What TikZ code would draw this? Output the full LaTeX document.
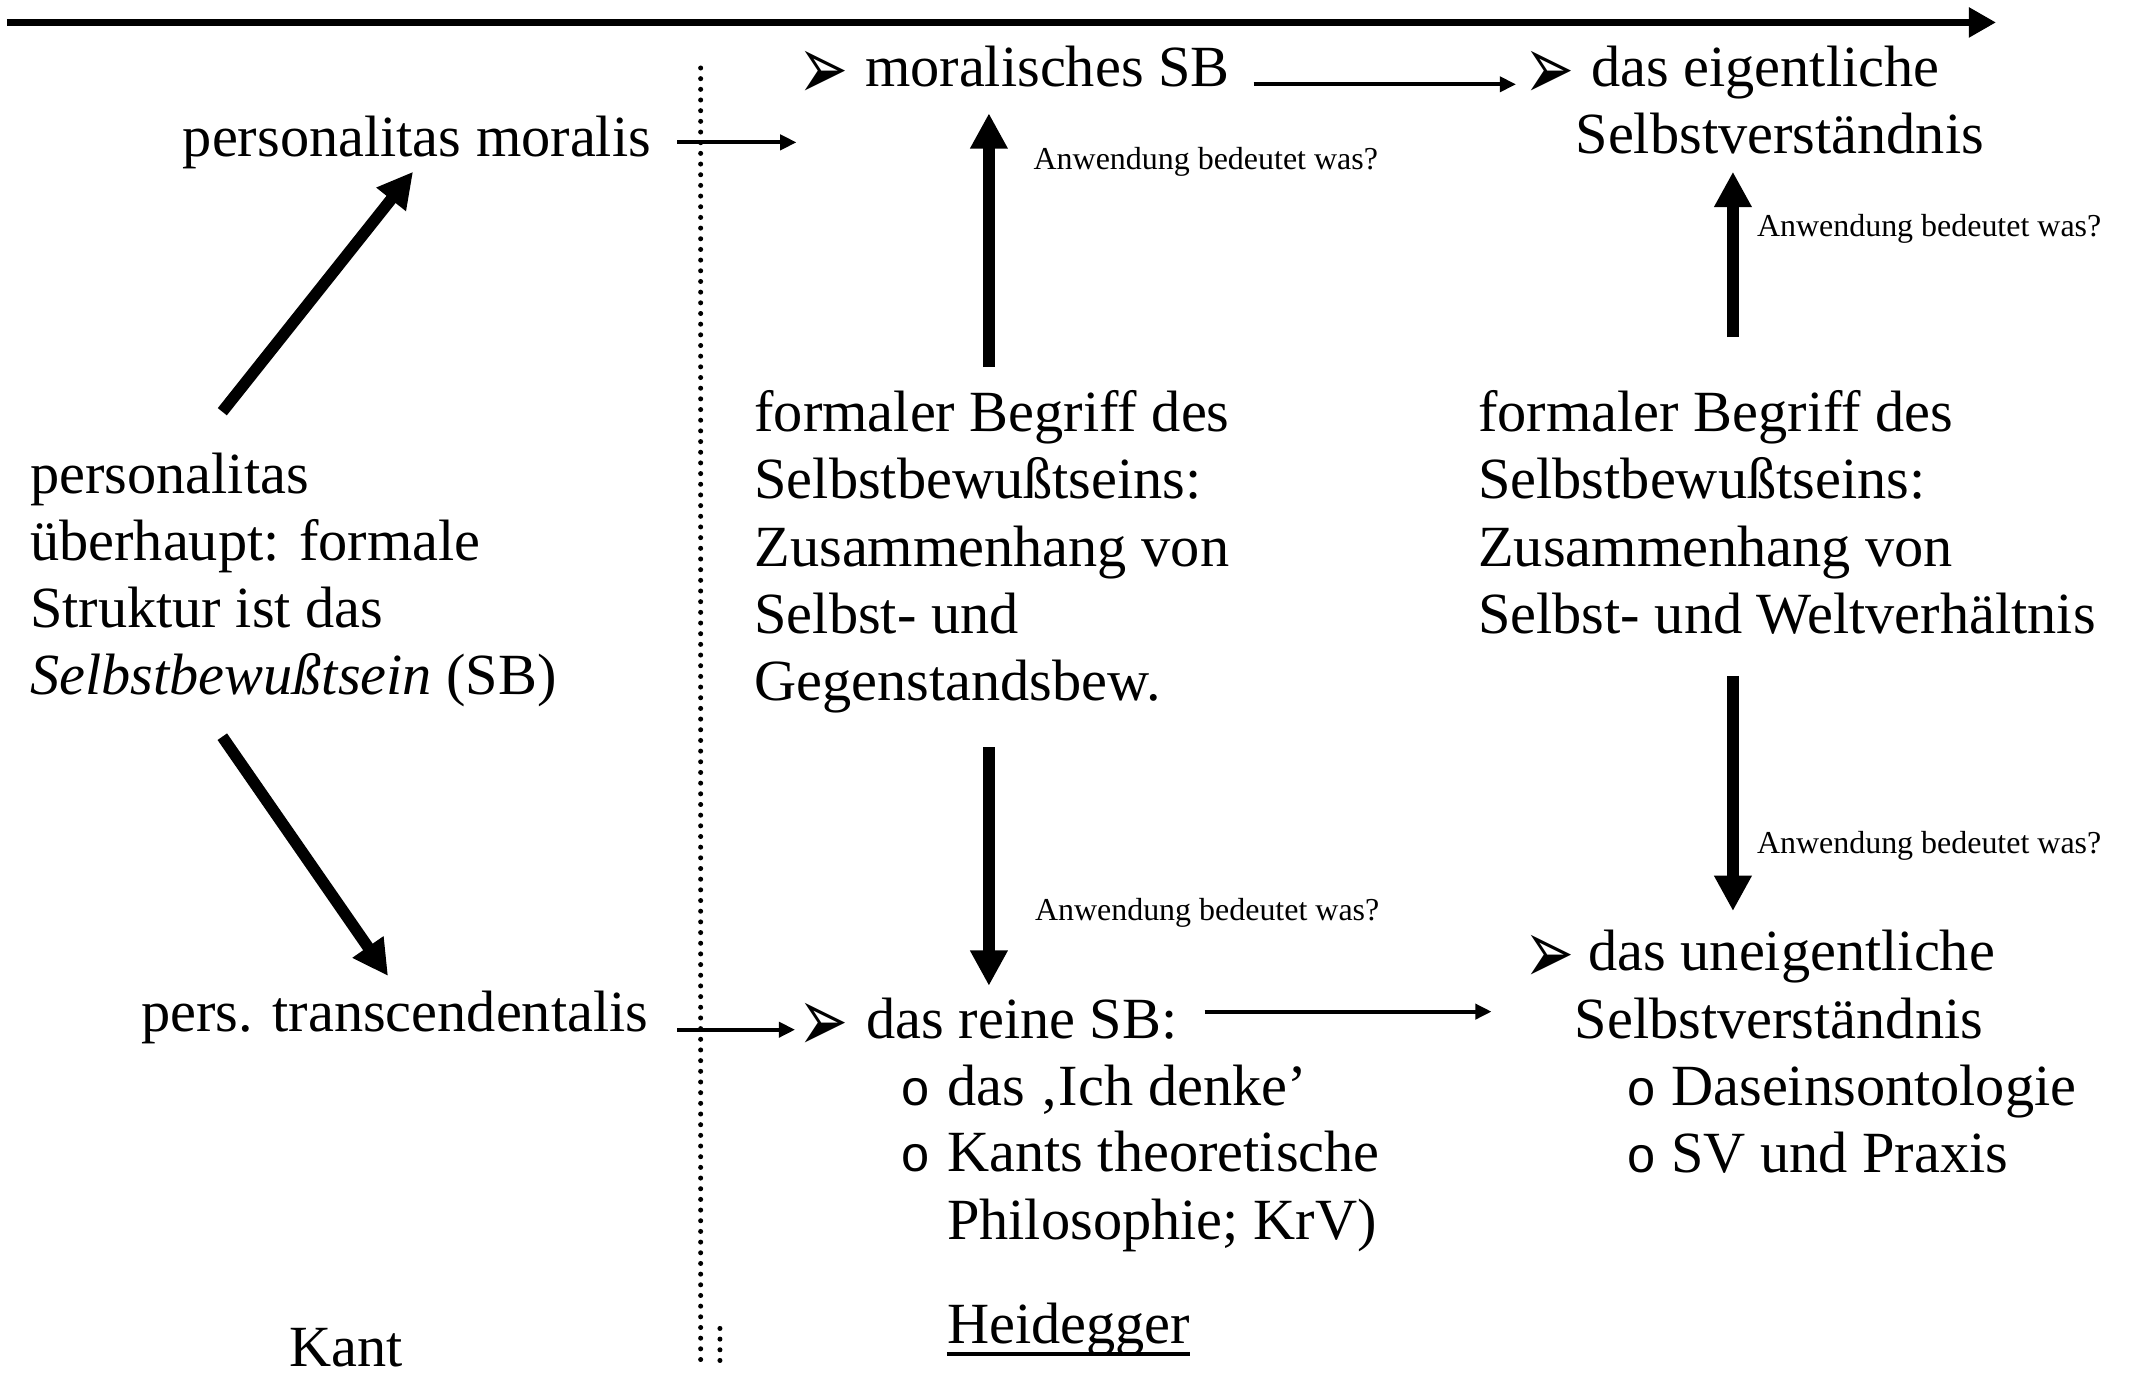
\documentclass[tikz,border=0pt]{standalone}
\usepackage{fontspec}
\usepackage{graphicx}
\setmainfont{Liberation Serif}
\newfontfamily\dejavu{DejaVu Sans}
\newfontfamily\monofnt{Liberation Mono}
\usetikzlibrary{arrows.meta}
\newcommand{\arrbul}{\raisebox{-9.5pt}{\scalebox{1.22}[1.85]{➢}}}
\begin{document}
\begin{tikzpicture}[x=1pt,y=-1pt,
  txt/.style={inner sep=0pt, anchor=base west, font=\fontsize{42.9}{49.4}\selectfont},
  txtr/.style={txt, anchor=base east},
  small/.style={inner sep=0pt, anchor=base west, font=\fontsize{23.5}{27}\selectfont},
  bul/.style={inner sep=0pt, anchor=base west, font=\dejavu\fontsize{36}{40}\selectfont},
  subbul/.style={inner sep=0pt, anchor=base west, font=\monofnt\fontsize{37}{42}\selectfont},
  bigarrow/.style={line width=8.5pt, -{Triangle[length=26pt,width=26pt]}},
  thinarrow/.style={line width=3pt, -{Triangle[length=12pt,width=11pt]}},
  dotline/.style={line width=3.7pt, line cap=round, dash pattern=on 0pt off 7.85pt},
]
\fill[white] (0,0) rectangle (1568,1013);
\useasboundingbox (0,0) rectangle (1568,1013);

% time axis
\coordinate (axs) at (5,16.5);
\coordinate (axe) at (1468,16.5);
\draw[line width=5pt, -{Triangle[length=20pt,width=21pt]}] (axs) -- (axe);

% dotted separators
\coordinate (d1s) at (515.3,50);
\coordinate (d1e) at (515.3,1001);
\coordinate (d2s) at (529.5,977);
\coordinate (d2e) at (529.5,1008);
\draw[dotline] (d1s) -- (d1e);
\draw[dotline] (d2s) -- (d2e);

% left column (Kant)
\node[txt] (pu) at (22,362.8) {\begin{tabular}[t]{@{}l@{}}personalitas\\ überhaupt: formale\\ Struktur ist das\\ \textit{Selbstbewußtsein} (SB)\end{tabular}};
\node[txtr] (pm) at (479,115.2) {personalitas moralis};
\node[txtr] (pt) at (477,758.8) {pers. transcendentalis};
\node[txt] (kant) at (212.6,1005) {Kant};

\coordinate (pu1) at (163.5,302.8);
\coordinate (pm1) at (303.8,126.3);
\coordinate (pu2) at (163.5,541.8);
\coordinate (pt1) at (285.4,717.8);
\draw[bigarrow] (pu1) -- (pm1);
\draw[bigarrow] (pu2) -- (pt1);

\coordinate (pm2) at (498,104.7);
\coordinate (ms1) at (585.8,104.7);
\draw[thinarrow] (pm2) -- (ms1);
\coordinate (pt2) at (498,757.3);
\coordinate (rs1) at (584.8,757.3);
\draw[thinarrow] (pt2) -- (rs1);

% middle column (Heidegger)
\node[bul] (b1) at (587,63.8) {\arrbul};
\node[txt] (ms) at (636,63.8) {moralisches SB};
\node[txt] (fb1) at (554.7,317.5) {\begin{tabular}[t]{@{}l@{}}formaler Begriff des\\ Selbstbewußtseins:\\ Zusammenhang von\\ Selbst- und\\ Gegenstandsbew.\end{tabular}};
\node[small] (aw1) at (760,125) {Anwendung bedeutet was?};
\node[small] (aw2) at (761,677.2) {Anwendung bedeutet was?};
\coordinate (fb1t) at (727.3,270);
\coordinate (ms2) at (727.3,83.3);
\draw[bigarrow] (fb1t) -- (ms2);
\coordinate (fb1b) at (727.3,549.5);
\coordinate (rs2) at (727.3,725);
\draw[bigarrow] (fb1b) -- (rs2);

\node[bul] (b2) at (587,763.5) {\arrbul};
\node[txt] (rs) at (637,763.5) {das reine SB:};
\node[subbul] (o1) at (662,812.7) {o};
\node[txt] (ich) at (696.4,812.7) {das ‚Ich denke’};
\node[subbul] (o2) at (662,861.9) {o};
\node[txt] (kts) at (696.4,861.9) {\begin{tabular}[t]{@{}l@{}}Kants theoretische\\ Philosophie; KrV)\end{tabular}};
\node[txt] (hd) at (696.4,988) {Heidegger};
\draw[line width=2.4pt] ([yshift=-7.7pt]hd.base west) -- ([yshift=-7.7pt]hd.base east);

\coordinate (ms3) at (922,62);
\coordinate (es1) at (1115,62);
\draw[thinarrow] (ms3) -- (es1);
\coordinate (rs3) at (886,744);
\coordinate (us1) at (1097,744);
\draw[thinarrow] (rs3) -- (us1);

% right column
\node[bul] (b3) at (1121,63.7) {\arrbul};
\node[txt] (es) at (1170,63.7) {das eigentliche};
\node[txt] (es2) at (1158.6,112.8) {Selbstverständnis};
\node[txt] (fb2) at (1087,317.5) {\begin{tabular}[t]{@{}l@{}}formaler Begriff des\\ Selbstbewußtseins:\\ Zusammenhang von\\ Selbst- und Weltverhältnis\end{tabular}};
\node[small] (aw3) at (1292,174) {Anwendung bedeutet was?};
\node[small] (aw4) at (1292,628) {Anwendung bedeutet was?};
\coordinate (fb2t) at (1274.5,248);
\coordinate (es3) at (1274.5,126.3);
\draw[bigarrow] (fb2t) -- (es3);
\coordinate (fb2b) at (1274.5,497);
\coordinate (us2) at (1274.5,670);
\draw[bigarrow] (fb2b) -- (us2);

\node[bul] (b4) at (1121,714) {\arrbul};
\node[txt] (us) at (1168,714) {das uneigentliche};
\node[txt] (us3) at (1158,764) {Selbstverständnis};
\node[subbul] (o3) at (1196,813) {o};
\node[txt] (do) at (1229,813) {Daseinsontologie};
\node[subbul] (o4) at (1196,862) {o};
\node[txt] (svp) at (1229,862) {SV und Praxis};
\end{tikzpicture}
\end{document}
